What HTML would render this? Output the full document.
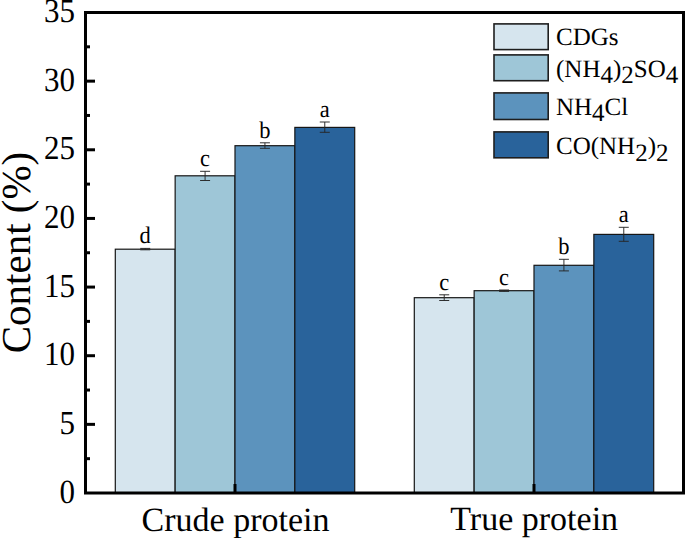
<!DOCTYPE html>
<html><head><meta charset="utf-8"><style>
html,body{margin:0;padding:0;background:#fff;}
svg{display:block;font-family:"Liberation Serif",serif;text-rendering:geometricPrecision;}
text{fill:#000;}
</style></head><body>
<svg width="685" height="538" viewBox="0 0 685 538">
<rect x="115.30" y="249.20" width="59.85" height="243.80" fill="#d6e5ee" stroke="#161616" stroke-width="1.2"/>
<rect x="175.15" y="175.80" width="59.85" height="317.20" fill="#9ec6d7" stroke="#161616" stroke-width="1.2"/>
<rect x="235.00" y="145.70" width="59.85" height="347.30" fill="#5c93bd" stroke="#161616" stroke-width="1.2"/>
<rect x="294.85" y="127.40" width="59.85" height="365.60" fill="#29639b" stroke="#161616" stroke-width="1.2"/>
<rect x="414.30" y="297.70" width="59.85" height="195.30" fill="#d6e5ee" stroke="#161616" stroke-width="1.2"/>
<rect x="474.15" y="290.70" width="59.85" height="202.30" fill="#9ec6d7" stroke="#161616" stroke-width="1.2"/>
<rect x="534.00" y="265.30" width="59.85" height="227.70" fill="#5c93bd" stroke="#161616" stroke-width="1.2"/>
<rect x="593.85" y="234.40" width="59.85" height="258.60" fill="#29639b" stroke="#161616" stroke-width="1.2"/>
<path d="M140.22 248.40H150.22M145.22 248.40V249.80M140.22 249.80H150.22" stroke="#262626" stroke-width="0.95" fill="none"/>
<text transform="translate(145.22 243.20) scale(1 1.06)" text-anchor="middle" font-size="22.5">d</text>
<path d="M200.08 171.30H210.08M205.08 171.30V180.50M200.08 180.50H210.08" stroke="#262626" stroke-width="0.95" fill="none"/>
<text transform="translate(205.08 166.10) scale(1 1.06)" text-anchor="middle" font-size="22.5">c</text>
<path d="M259.93 142.80H269.93M264.93 142.80V148.30M259.93 148.30H269.93" stroke="#262626" stroke-width="0.95" fill="none"/>
<text transform="translate(264.93 137.60) scale(1 1.06)" text-anchor="middle" font-size="22.5">b</text>
<path d="M319.78 122.00H329.78M324.78 122.00V132.30M319.78 132.30H329.78" stroke="#262626" stroke-width="0.95" fill="none"/>
<text transform="translate(324.78 116.80) scale(1 1.06)" text-anchor="middle" font-size="22.5">a</text>
<path d="M439.23 294.80H449.23M444.23 294.80V300.50M439.23 300.50H449.23" stroke="#262626" stroke-width="0.95" fill="none"/>
<text transform="translate(444.23 289.60) scale(1 1.06)" text-anchor="middle" font-size="22.5">c</text>
<path d="M499.08 290.00H509.08M504.08 290.00V291.40M499.08 291.40H509.08" stroke="#262626" stroke-width="0.95" fill="none"/>
<text transform="translate(504.08 284.80) scale(1 1.06)" text-anchor="middle" font-size="22.5">c</text>
<path d="M558.92 259.30H568.92M563.92 259.30V270.90M558.92 270.90H568.92" stroke="#262626" stroke-width="0.95" fill="none"/>
<text transform="translate(563.92 254.10) scale(1 1.06)" text-anchor="middle" font-size="22.5">b</text>
<path d="M618.77 227.30H628.77M623.77 227.30V241.30M618.77 241.30H628.77" stroke="#262626" stroke-width="0.95" fill="none"/>
<text transform="translate(623.77 222.10) scale(1 1.06)" text-anchor="middle" font-size="22.5">a</text>
<text transform="translate(75 502.50) scale(1 1.09)" text-anchor="end" font-size="31">0</text>
<path d="M85.5 424.36H95" stroke="#000" stroke-width="3"/>
<text transform="translate(75 433.86) scale(1 1.09)" text-anchor="end" font-size="31">5</text>
<path d="M85.5 355.71H95" stroke="#000" stroke-width="3"/>
<text transform="translate(75 365.21) scale(1 1.09)" text-anchor="end" font-size="31">10</text>
<path d="M85.5 287.07H95" stroke="#000" stroke-width="3"/>
<text transform="translate(75 296.57) scale(1 1.09)" text-anchor="end" font-size="31">15</text>
<path d="M85.5 218.43H95" stroke="#000" stroke-width="3"/>
<text transform="translate(75 227.93) scale(1 1.09)" text-anchor="end" font-size="31">20</text>
<path d="M85.5 149.79H95" stroke="#000" stroke-width="3"/>
<text transform="translate(75 159.29) scale(1 1.09)" text-anchor="end" font-size="31">25</text>
<path d="M85.5 81.14H95" stroke="#000" stroke-width="3"/>
<text transform="translate(75 90.64) scale(1 1.09)" text-anchor="end" font-size="31">30</text>
<text transform="translate(75 22.00) scale(1 1.09)" text-anchor="end" font-size="31">35</text>
<path d="M85.5 458.68H90" stroke="#000" stroke-width="3"/>
<path d="M85.5 390.04H90" stroke="#000" stroke-width="3"/>
<path d="M85.5 321.39H90" stroke="#000" stroke-width="3"/>
<path d="M85.5 252.75H90" stroke="#000" stroke-width="3"/>
<path d="M85.5 184.11H90" stroke="#000" stroke-width="3"/>
<path d="M85.5 115.46H90" stroke="#000" stroke-width="3"/>
<path d="M85.5 46.82H90" stroke="#000" stroke-width="3"/>
<path d="M235 493V484" stroke="#000" stroke-width="3"/>
<path d="M534 493V484" stroke="#000" stroke-width="3"/>
<rect x="85.5" y="12.5" width="598" height="480.5" fill="none" stroke="#000" stroke-width="3"/>
<text x="235.5" y="530.5" text-anchor="middle" font-size="34">Crude protein</text>
<text x="534.2" y="529.8" text-anchor="middle" font-size="34">True protein</text>
<text transform="translate(30 252.5) rotate(-90)" text-anchor="middle" font-size="41">Content (%)</text>
<rect x="494" y="23.90" width="54.2" height="25.70" fill="#d6e5ee" stroke="#1e1e1e" stroke-width="1.6"/>
<text x="556" y="45.3" font-size="25">CDGs</text>
<rect x="494" y="54.90" width="54.2" height="25.80" fill="#9ec6d7" stroke="#1e1e1e" stroke-width="1.6"/>
<text x="556" y="76.5" font-size="25">(NH<tspan dy="6.5">4</tspan><tspan dy="-6.5">)</tspan><tspan dy="6.5">2</tspan><tspan dy="-6.5">SO</tspan><tspan dy="6.5">4</tspan></text>
<rect x="494" y="92.90" width="54.2" height="26.60" fill="#5c93bd" stroke="#1e1e1e" stroke-width="1.6"/>
<text x="556" y="114.6" font-size="25">NH<tspan dy="6.5">4</tspan><tspan dy="-6.5">Cl</tspan></text>
<rect x="494" y="131.90" width="54.2" height="25.90" fill="#29639b" stroke="#1e1e1e" stroke-width="1.6"/>
<text x="556" y="154.0" font-size="25">CO(NH<tspan dy="6.5">2</tspan><tspan dy="-6.5">)</tspan><tspan dy="6.5">2</tspan></text>
</svg>
</body></html>
